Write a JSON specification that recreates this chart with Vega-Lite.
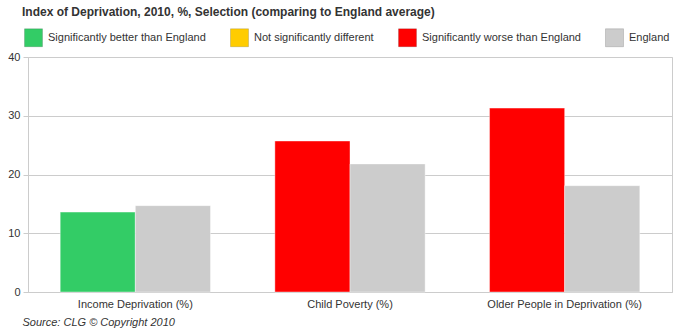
{
  "$schema": "https://vega.github.io/schema/vega-lite/v6.json",
  "width": 644,
  "height": 235,
  "autosize": {"type": "none"},
  "padding": {"left": 28, "top": 57, "right": 15, "bottom": 39},
  "background": "white",
  "title": {
    "text": "Index of Deprivation, 2010, %, Selection (comparing to England average)",
    "anchor": "start",
    "frame": "group",
    "dx": -6,
    "offset": 0,
    "baseline": "alphabetic",
    "font": "Liberation Sans",
    "fontSize": 12,
    "fontWeight": "bold",
    "color": "#333333"
  },
  "data": {
    "values": [
      {"indicator": "Income Deprivation (%)", "series": "Selection", "status": "Significantly better than England", "value": 13.6},
      {"indicator": "Income Deprivation (%)", "series": "England", "status": "England", "value": 14.7},
      {"indicator": "Child Poverty (%)", "series": "Selection", "status": "Significantly worse than England", "value": 25.7},
      {"indicator": "Child Poverty (%)", "series": "England", "status": "England", "value": 21.8},
      {"indicator": "Older People in Deprivation (%)", "series": "Selection", "status": "Significantly worse than England", "value": 31.3},
      {"indicator": "Older People in Deprivation (%)", "series": "England", "status": "England", "value": 18.1}
    ]
  },
  "mark": {"type": "bar", "stroke": "white", "strokeOpacity": 0.4, "strokeWidth": 1},
  "encoding": {
    "x": {
      "field": "indicator",
      "type": "nominal",
      "sort": ["Income Deprivation (%)", "Child Poverty (%)", "Older People in Deprivation (%)"],
      "scale": {"paddingInner": 0.3, "paddingOuter": 0.15},
      "axis": {
        "title": "Source: CLG © Copyright 2010",
        "labelAngle": 0,
        "ticks": false,
        "domainColor": "#cccccc",
        "labelFontSize": 11,
        "labelColor": "#333333",
        "labelPadding": 6,
        "titleAnchor": "start",
        "titleAlign": "left",
        "titleX": -6,
        "titleY": 24,
        "titleBaseline": "top",
        "titleFontStyle": "italic",
        "titleFontWeight": "normal",
        "titleFontSize": 11,
        "titleColor": "#333333"
      }
    },
    "xOffset": {"field": "series", "type": "nominal", "sort": ["Selection", "England"]},
    "y": {
      "field": "value",
      "type": "quantitative",
      "scale": {"domain": [0, 40]},
      "axis": {
        "title": null,
        "values": [0, 10, 20, 30, 40],
        "gridColor": "#cccccc",
        "domainColor": "#cccccc",
        "tickColor": "#cccccc",
        "tickSize": 5,
        "labelPadding": 3,
        "labelFontSize": 11,
        "labelColor": "#333333"
      }
    },
    "color": {
      "field": "status",
      "type": "nominal",
      "scale": {
        "domain": ["Significantly better than England", "Not significantly different", "Significantly worse than England", "England"],
        "range": ["#33cc66", "#ffcc00", "#ff0000", "#cccccc"]
      },
      "legend": {
        "orient": "none",
        "legendX": -4,
        "legendY": -29,
        "direction": "horizontal",
        "title": null,
        "symbolType": "square",
        "symbolSize": 324,
        "symbolStrokeColor": "rgba(0,0,0,0.15)",
        "symbolStrokeWidth": 1,
        "symbolOpacity": 1,
        "labelFontSize": 11,
        "labelColor": "#333333",
        "labelOffset": 5,
        "columnPadding": 22,
        "padding": 0
      }
    }
  },
  "config": {
    "font": "Liberation Sans",
    "view": {"stroke": "#cccccc"}
  }
}
